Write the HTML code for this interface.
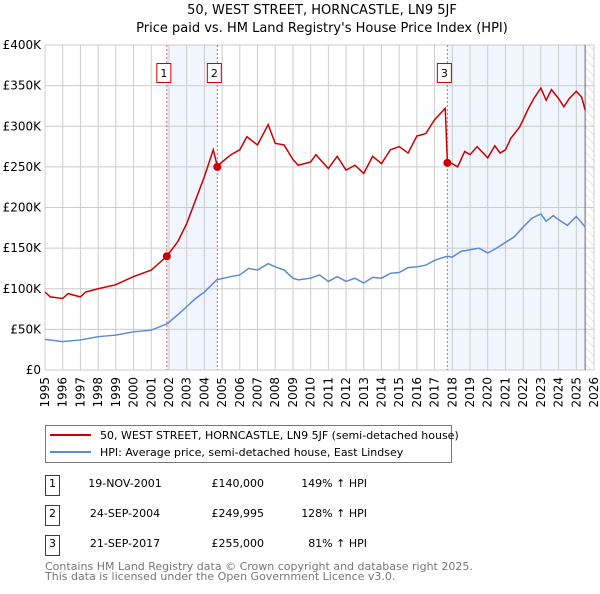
<!DOCTYPE html>
<html><head><meta charset="utf-8"><style>
body{margin:0;background:#fff;font-family:"DejaVu Sans","Liberation Sans",sans-serif;}
svg text{font-family:"DejaVu Sans","Liberation Sans",sans-serif;}
</style></head><body>
<svg id="c" width="600" height="590" xmlns="http://www.w3.org/2000/svg">
<defs><pattern id="hatch" width="6" height="6" patternUnits="userSpaceOnUse" patternTransform="rotate(-45)"><line x1="0" y1="0" x2="0" y2="6" stroke="#ccc" stroke-width="1"/></pattern></defs>
<text x="322" y="14" text-anchor="middle" font-size="13">50, WEST STREET, HORNCASTLE, LN9 5JF</text>
<text x="322" y="32" text-anchor="middle" font-size="13">Price paid vs. HM Land Registry's House Price Index (HPI)</text>
<g id="plot"></g>
<g>
<rect x="45.5" y="425.5" width="406" height="37" fill="#fff" stroke="#777"/>
<line x1="50" y1="435" x2="91" y2="435" stroke="#cc0000" stroke-width="2"/>
<text x="100" y="439" font-size="11">50, WEST STREET, HORNCASTLE, LN9 5JF (semi-detached house)</text>
<line x1="50" y1="452" x2="91" y2="452" stroke="#5b8bd0" stroke-width="2"/>
<text x="100" y="456" font-size="11">HPI: Average price, semi-detached house, East Lindsey</text>
</g>
<g id="table" font-size="11"></g>
<text x="45" y="570" font-size="11" fill="#777">Contains HM Land Registry data © Crown copyright and database right 2025.</text>
<text x="45" y="580" font-size="11" fill="#777">This data is licensed under the Open Government Licence v3.0.</text>
</svg>
<script>
const hpiYears=[1995,1996,1997,1998,1999,2000,2001,2001.9,2002.5,2003,2003.5,2004,2004.7,2005.5,2006,2006.5,2007,2007.6,2008,2008.5,2009,2009.3,2010,2010.5,2011,2011.5,2012,2012.5,2013,2013.5,2014,2014.5,2015,2015.5,2016,2016.5,2017,2017.7,2018,2018.5,2019,2019.5,2020,2020.5,2021,2021.5,2022,2022.5,2023,2023.3,2023.7,2024,2024.5,2025,2025.5];
const hpiValues=[37.7,35,37,41,43,47,49,57,68,78,88,96,111,115,117,125,123,131,127,123,113,111,113,117,109,115,109,113,107,114,113,119,120,126,127,129,135,140,139,146,148,150,144,150,157,164,176,187,192,183,190,185,178,189,176];
const priceYears=[1995,1995.3,1996,1996.3,1997,1997.3,1998,1999,2000,2001,2001.88,2002.5,2003,2003.5,2004,2004.5,2004.73,2005,2005.5,2006,2006.4,2007,2007.6,2008,2008.5,2009,2009.3,2010,2010.3,2011,2011.5,2012,2012.5,2013,2013.5,2014,2014.5,2015,2015.5,2016,2016.5,2017,2017.6,2017.72,2018,2018.3,2018.7,2019,2019.4,2020,2020.4,2020.7,2021,2021.3,2021.8,2022.3,2022.6,2023,2023.3,2023.6,2024,2024.3,2024.6,2025,2025.3,2025.5];
const priceValues=[96,90,88,94,90,96,100,105,115,123,140,158,180,209,238,271,251,256,265,271,287,277,302,279,277,259,252,256,265,248,263,246,252,242,263,254,271,275,267,288,291,308,322,256,254,250,269,265,275,261,276,267,271,285,299,322,334,347,332,345,334,324,334,343,336,320];
const saleLabels=["1","2","3"];
const saleYears=[2001.88,2004.73,2017.72];
const saleValues=[140,249.995,255];
const saleDates=["19-NOV-2001","24-SEP-2004","21-SEP-2017"];
const salePrices=["£140,000","£249,995","£255,000"];
const salePct=["149% ↑ HPI","128% ↑ HPI","81% ↑ HPI"];
const yTicks=[0,50,100,150,200,250,300,350,400];
const yTickLabels=["£0","£50K","£100K","£150K","£200K","£250K","£300K","£350K","£400K"];
const xTicks=[1995,1996,1997,1998,1999,2000,2001,2002,2003,2004,2005,2006,2007,2008,2009,2010,2011,2012,2013,2014,2015,2016,2017,2018,2019,2020,2021,2022,2023,2024,2025,2026];
const dataEnd=2025.5;

const X0=45,X1=594,Y0=370,Y1=45;
const x=v=>X0+(v-1995)/(2026-1995)*(X1-X0);
const y=v=>Y0-v/400*(Y0-Y1);
const NS="http://www.w3.org/2000/svg";
const plot=document.getElementById('plot');
function mk(tag,attrs,parent){const e=document.createElementNS(NS,tag);for(const k in attrs)e.setAttribute(k,attrs[k]);(parent||plot).appendChild(e);return e;}

let r=mk('rect',{x:x(saleYears[0]),y:Y1,width:x(saleYears[1])-x(saleYears[0]),height:Y0-Y1,fill:'#eef3fc',opacity:0.8});


r=mk('rect',{x:x(saleYears[2]),y:Y1,width:x(dataEnd)-x(saleYears[2]),height:Y0-Y1,fill:'#eef3fc',opacity:0.8});


r=mk('rect',{x:x(dataEnd),y:Y1,width:X1-x(dataEnd),height:Y0-Y1,fill:'url(#hatch)'});



xTicks.forEach(t=>{const l=mk('line',{x1:x(t),x2:x(t),y1:Y1,y2:Y0,stroke:'#ccc','stroke-width':1});


const tx=mk('text',{x:0,y:0,'font-size':12,'text-anchor':'end',transform:`translate(${x(t)+4},${Y0+7}) rotate(-90)`});tx.textContent=t;

});
yTicks.forEach((t,i)=>{const l=mk('line',{x1:X0,x2:X1,y1:y(t),y2:y(t),stroke:'#ccc','stroke-width':1});


const tx=mk('text',{x:41,y:y(t)+4,'font-size':12,'text-anchor':'end'});tx.textContent=yTickLabels[i];

});
const de=mk('line',{x1:x(dataEnd),x2:x(dataEnd),y1:Y1,y2:Y0,stroke:'#666','stroke-width':1});



saleYears.forEach((s,i)=>{const l=mk('line',{x1:x(s),x2:x(s),y1:Y1,y2:Y0,stroke:'#f06060','stroke-width':1,'stroke-dasharray':'2,2'});

});

const hp=mk('polyline',{points:hpiYears.map((v,i)=>x(v)+','+y(hpiValues[i])).join(' '),fill:'none',stroke:'#5b8bd0','stroke-width':1.5});


const pp=mk('polyline',{points:priceYears.map((v,i)=>x(v)+','+y(priceValues[i])).join(' '),fill:'none',stroke:'#cc0000','stroke-width':1.5});



saleYears.forEach((s,i)=>{const c=mk('circle',{cx:x(s),cy:y(saleValues[i]),r:4,fill:'#cc0000'});


const g=mk('g',{});


mk('rect',{x:x(s)-10,y:63.5,width:14,height:19,fill:'#fff',stroke:'#cc0000'},g);
const t=mk('text',{x:x(s)-3,y:77,'font-size':11,'text-anchor':'middle'},g);t.textContent=saleLabels[i];});

const tb=document.getElementById('table');
saleLabels.forEach((s,i)=>{const yy=483+i*30;
const g=mk('g',{},tb);


mk('rect',{x:45.5,y:yy-7.5,width:14,height:20,fill:'#fff',stroke:'#cc0000'},g);
let t=mk('text',{x:52.5,y:yy+4,'text-anchor':'middle'},g);t.textContent=s;
t=mk('text',{x:125,y:yy+4,'text-anchor':'middle'},g);t.textContent=saleDates[i];
t=mk('text',{x:264,y:yy+4,'text-anchor':'end'},g);t.textContent=salePrices[i];
t=mk('text',{x:367,y:yy+4,'text-anchor':'end'},g);t.textContent=salePct[i];});
</script>
</body></html>
